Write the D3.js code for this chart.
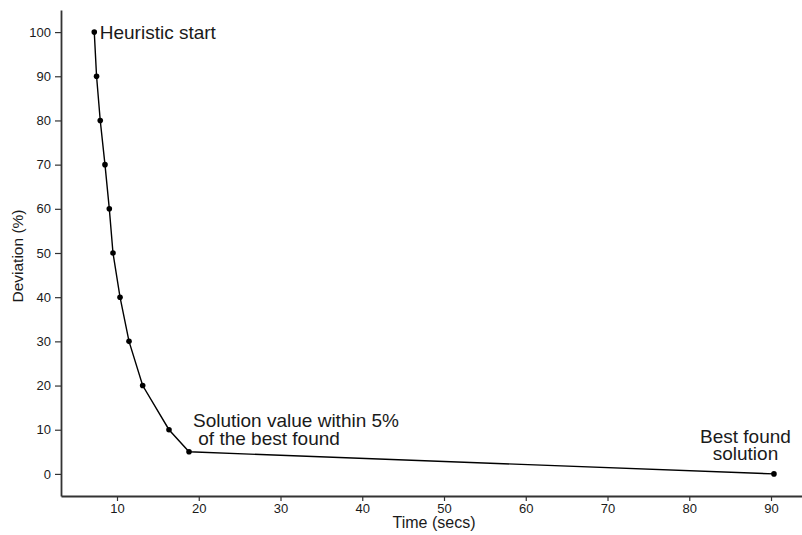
<!DOCTYPE html>
<html>
<head>
<meta charset="utf-8">
<script src="https://cdn.jsdelivr.net/npm/d3@7"></script>
<style>
  html, body { margin: 0; padding: 0; background: #fff; }
  svg { display: block; font-family: "Liberation Sans", Arial, sans-serif; }
</style>
</head>
<body>
<svg id="chart" width="802" height="535"></svg>
<script>
// ---- data ----
const timeSecs = [7.22, 7.5, 7.95, 8.53, 9.06, 9.51, 10.37, 11.47, 13.14, 16.36, 18.81, 90.36];
const deviation = [100, 90, 80, 70, 60, 50, 40, 30, 20, 10, 5, 0];
const xTicks = [10, 20, 30, 40, 50, 60, 70, 80, 90];
const yTicks = [0, 10, 20, 30, 40, 50, 60, 70, 80, 90, 100];
const xLabel = "Time (secs)";
const yLabel = "Deviation (%)";
const annotations = [
  { idx: 0, lines: ["Heuristic start"] },
  { idx: 10, lines: ["Solution value within 5%", " of the best found"] },
  { idx: 11, lines: ["Best found", "solution"] }
];

// ---- layout ----
const svg = d3.select("#chart");
const plotL = 61, plotR = 802, plotT = 10, plotB = 496;
const x = d3.scaleLinear().domain([3.15, 93.79]).range([plotL, plotR]);
const y = d3.scaleLinear().domain([-5, 105]).range([plotB, plotT]);
const ink = "#1a1a1a";

// axes
const xAxis = d3.axisBottom(x).tickValues(xTicks).tickSize(5).tickPadding(3).tickSizeOuter(0);
const yAxis = d3.axisLeft(y).tickValues(yTicks).tickSize(6).tickPadding(4).tickSizeOuter(0);

const gx = svg.append("g").attr("transform", `translate(0,${plotB})`).call(xAxis);
const gy = svg.append("g").attr("transform", `translate(${plotL},0)`).call(yAxis);
[gx, gy].forEach(g => {
  g.select(".domain").attr("stroke", "#333").attr("stroke-width", 1.8);
  g.selectAll(".tick line").attr("stroke", "#333").attr("stroke-width", 1.2);
  g.selectAll(".tick text").attr("fill", ink).style("font-size", "13px")
    .style("font-family", "'Liberation Sans', Arial, sans-serif");
});

// axis titles
svg.append("text").attr("x", 434).attr("y", 528)
  .attr("text-anchor", "middle").attr("fill", ink).style("font-size", "16px").text(xLabel);
svg.append("text").attr("transform", "translate(23,256) rotate(-90)")
  .attr("text-anchor", "middle").attr("fill", ink).style("font-size", "15.5px").text(yLabel);

// line + points
const pts = timeSecs.map((t, i) => [t, deviation[i]]);
svg.append("path").datum(pts)
  .attr("fill", "none").attr("stroke", "#000").attr("stroke-width", 1.4)
  .attr("d", d3.line().x(d => x(d[0])).y(d => y(d[1])));
svg.selectAll("circle.pt").data(pts).enter().append("circle")
  .attr("class", "pt").attr("cx", d => x(d[0])).attr("cy", d => y(d[1]))
  .attr("r", 2.8).attr("fill", "#000");

// annotations
const annFont = 19;
function addAnn(a, dx, dy, anchor) {
  const t = svg.append("text")
    .attr("x", x(timeSecs[a.idx]) + dx).attr("y", y(deviation[a.idx]) + dy)
    .attr("text-anchor", anchor).attr("fill", ink)
    .style("font-size", annFont + "px").style("white-space", "pre")
    .attr("xml:space", "preserve");
  a.lines.forEach((l, i) => {
    t.append("tspan").attr("x", x(timeSecs[a.idx]) + dx).attr("dy", i === 0 ? 0 : 17.7).text(l);
  });
}
addAnn(annotations[0], 5.5, 7, "start");
addAnn(annotations[1], 4, -24.5, "start");
addAnn(annotations[2], -28.5, -31.3, "middle");
</script>
</body>
</html>
